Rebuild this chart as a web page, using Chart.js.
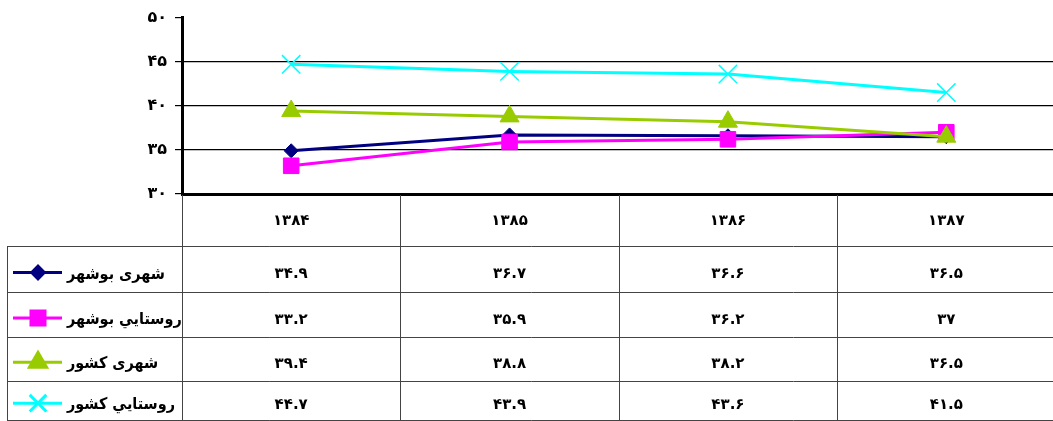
<!DOCTYPE html>
<html>
<head>
<meta charset="utf-8">
<script src="https://cdn.jsdelivr.net/npm/chart.js@4/dist/chart.umd.min.js"></script>
<style>
html, body { margin: 0; padding: 0; background: #fff; overflow: hidden; }
#wrap { position: relative; width: 1053px; height: 421px; overflow: hidden; }
canvas { position: absolute; left: 0; top: 0; }
</style>
</head>
<body>
<div id="wrap"><canvas id="c" width="1070" height="421"></canvas></div>
<script>
// years (solar hijri) and the four series
const years = ['1384', '1385', '1386', '1387'];
const seriesNames = ['شهری بوشهر', 'روستايي بوشهر', 'شهری کشور', 'روستايي کشور'];
const urbanBushehr = [34.9, 36.7, 36.6, 36.5];
const ruralBushehr = [33.2, 35.9, 36.2, 37];
const urbanIran = [39.4, 38.8, 38.2, 36.5];
const ruralIran = [44.7, 43.9, 43.6, 41.5];
const yTicks = [30, 35, 40, 45, 50];

const FONT = '"DejaVu Sans"';
const LEGEND_FONT = '"DejaVu Sans Condensed", "DejaVu Sans"';
const faDigits = '۰۱۲۳۴۵۶۷۸۹';
function toFa(v) {
  return String(v).replace(/\d/g, function(d) { return faDigits[d]; });
}

const styles = [
  { color: '#000080', pointStyle: 'rectRot', radius: 7 },
  { color: '#ff00ff', pointStyle: 'rect', radius: 11 },
  { color: '#99cc00', pointStyle: 'triangle', radius: 11 },
  { color: '#00ffff', pointStyle: 'crossRot', radius: 13, pointBorder: 1.5 }
];
const allSeries = [urbanBushehr, ruralBushehr, urbanIran, ruralIran];

// data table under the plot, columns follow the x scale
const dataTable = {
  id: 'dataTable',
  afterDraw(chart) {
    const ctx = chart.ctx;
    const area = chart.chartArea;
    const x = chart.scales.x;
    const colW = (area.right - area.left) / years.length;
    const rowTops = [246, 292, 337, 381, 420];

    ctx.save();
    ctx.strokeStyle = '#444';
    ctx.lineWidth = 1;
    ctx.beginPath();
    for (let i = 0; i <= years.length; i++) {
      const px = Math.round(area.left + i * colW) + 0.5;
      ctx.moveTo(px, area.bottom + 1);
      ctx.lineTo(px, rowTops[4]);
    }
    ctx.moveTo(7.5, rowTops[0]);
    ctx.lineTo(7.5, rowTops[4]);
    rowTops.forEach(function(y) {
      ctx.moveTo(7, y + 0.5);
      ctx.lineTo(area.right, y + 0.5);
    });
    ctx.stroke();

    ctx.fillStyle = '#000';
    ctx.textAlign = 'center';
    ctx.textBaseline = 'middle';
    ctx.font = 'bold 15px ' + FONT;
    years.forEach(function(yr, i) {
      ctx.fillText(toFa(yr), x.getPixelForValue(i), 221);
    });

    allSeries.forEach(function(vals, r) {
      const top = rowTops[r], bot = rowTops[r + 1];
      const ty = top + (bot - top) * 0.62;
      ctx.font = 'bold 15px ' + FONT;
      ctx.textAlign = 'center';
      vals.forEach(function(v, i) {
        ctx.fillText(toFa(v), x.getPixelForValue(i), ty);
      });

      // legend key
      const st = styles[r];
      const ly = ty - 2;
      ctx.strokeStyle = st.color;
      ctx.lineWidth = 3;
      ctx.beginPath();
      ctx.moveTo(13, ly);
      ctx.lineTo(62, ly);
      ctx.stroke();
      ctx.fillStyle = st.color;
      Chart.helpers.drawPoint(ctx, {
        pointStyle: st.pointStyle,
        radius: st.radius * 0.9,
        rotation: 0,
        borderWidth: st.pointBorder || 1
      }, 38, ly);
      ctx.fill();
      ctx.fillStyle = '#000';
      ctx.font = 'bold 16px ' + LEGEND_FONT;
      ctx.textAlign = 'left';
      ctx.fillText(seriesNames[r], 67, ty);
    });
    ctx.restore();
  }
};

const datasets = allSeries.map(function(vals, i) {
  const st = styles[i];
  return {
    label: seriesNames[i],
    data: vals,
    borderColor: st.color,
    backgroundColor: st.color,
    borderWidth: 3,
    tension: 0,
    pointStyle: st.pointStyle,
    pointRadius: st.radius,
    pointBorderWidth: st.pointBorder || 1,
    pointBorderColor: st.color,
    pointBackgroundColor: st.color,
    order: 4 - i
  };
});

new Chart(document.getElementById('c'), {
  type: 'line',
  data: { labels: years, datasets: datasets },
  options: {
    responsive: false,
    animation: false,
    devicePixelRatio: 1,
    layout: { padding: { top: 15, right: 8, bottom: 227, left: 0 } },
    plugins: { legend: { display: false }, tooltip: { enabled: false } },
    scales: {
      x: {
        offset: true,
        grid: { display: false },
        ticks: { display: false },
        border: { display: true, color: '#000', width: 3 },
        afterFit: function(s) { s.height = 0; }
      },
      y: {
        min: 30,
        max: 50,
        afterBuildTicks: function(s) {
          s.ticks = yTicks.map(function(v) { return { value: v }; });
        },
        grid: {
          color: function(c) {
            const v = c.tick && c.tick.value;
            return (v === 30 || v === 50) ? 'rgba(0,0,0,0)' : '#000';
          },
          tickColor: '#000',
          tickLength: 7,
          lineWidth: 1.2
        },
        border: { display: true, color: '#000', width: 3 },
        ticks: {
          padding: 8,
          color: '#000',
          font: { family: 'DejaVu Sans', size: 16, weight: 'bold' },
          callback: function(v) { return toFa(v); }
        },
        afterFit: function(s) { s.width = 182; }
      }
    }
  },
  plugins: [dataTable]
});
</script>
</body>
</html>
